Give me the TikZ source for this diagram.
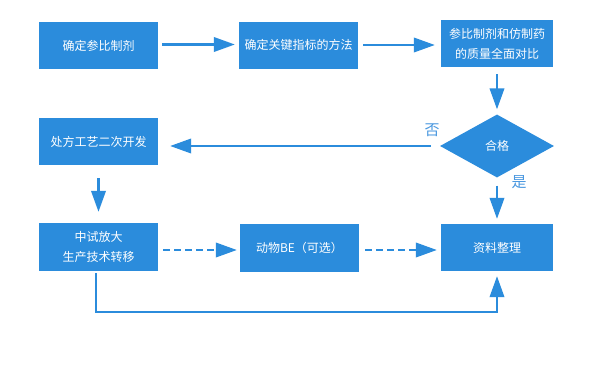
\documentclass[tikz,border=0pt]{standalone}
\usepackage{fontspec}
\setmainfont{Noto Sans CJK SC}
\usetikzlibrary{arrows.meta,shapes.geometric}
\definecolor{boxblue}{RGB}{43,140,220}
\definecolor{lblblue}{RGB}{74,152,224}
\begin{document}
\begin{tikzpicture}[x=1pt,y=-1pt,
  box/.style={fill=boxblue, text=white, inner sep=0pt, minimum width=119pt, minimum height=47pt,
    font=\fontsize{12}{20}\selectfont, align=center},
  narrowbox/.style={box, minimum width=112pt},
  decision/.style={diamond, fill=boxblue, text=white, inner sep=0pt, minimum width=114pt,
    minimum height=63pt, font=\fontsize{12}{20}\selectfont},
  conn/.style={draw=boxblue, line width=2.2pt, -{Triangle[length=21pt,width=14.5pt]}},
  dashconn/.style={conn, dash pattern=on 7pt off 4pt},
  lbl/.style={text=lblblue, inner sep=0pt, font=\fontsize{15}{15}\selectfont}]
\useasboundingbox[fill=white] (0,0) rectangle (600,375);

\node[box] (b1) at (98.5,45.5) {确定参比制剂};
\node[box] (b2) at (298.5,45) {确定关键指标的方法};
\node[narrowbox] (b3) at (497,43.5) {参比制剂和仿制药\\的质量全面对比};
\node[decision] (d) at (497,146) {合格};
\node[box] (b4) at (98.5,141.5) {处方工艺二次开发};
\node[box, minimum height=48pt] (b5) at (98.5,247) {中试放大\\生产技术转移};
\node[box, minimum height=48pt] (b6) at (299.5,248) {动物BE（可选）};
\node[narrowbox] (b7) at (497,247.5) {资料整理};

\node[lbl] (no) at (432,130) {否};
\node[lbl] (yes) at (519,182) {是};

\draw[conn, shorten <=4pt, shorten >=4pt] ([yshift=1pt]b1.east) -- ([yshift=1pt]b1.east -| b2.west);
\draw[conn, shorten <=5pt, shorten >=6pt] ([yshift=0pt]b2.east) -- (b2.east -| b3.west);
\draw[conn, shorten <=7pt, shorten >=5pt] (b3.south) -- (d.north);
\draw[conn, shorten <=9pt, shorten >=12pt] (d.west) -- (d.west -| b4.east);
\draw[conn, shorten <=13pt, shorten >=11pt] (b4.south) -- (b5.north);
\draw[conn, shorten <=8pt, shorten >=5pt] (d.south) -- (b7.north);
\draw[dashconn, shorten <=5pt, shorten >=3pt] ([yshift=-3pt]b5.east) -- ([yshift=-3pt]b5.east -| b6.west);
\draw[dashconn, shorten <=6pt, shorten >=4pt] ([yshift=-2pt]b6.east) -- ([yshift=-2pt]b6.east -| b7.west);
\draw[conn, shorten <=2pt, shorten >=5pt] ([xshift=-2.5pt]b5.south) |- (497,312) -- (b7.south);
\end{tikzpicture}
\end{document}
